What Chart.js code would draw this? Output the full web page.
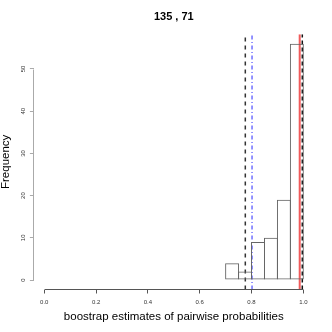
<!DOCTYPE html>
<html lang="en">
<head>
<meta charset="UTF-8">
<title>135 , 71</title>
<script src="https://cdn.jsdelivr.net/npm/chart.js@4.4.0/dist/chart.umd.min.js"></script>
<style>
    html, body { margin: 0; padding: 0; background: #fff; }
    #wrap { width: 332px; height: 332px; position: relative; }
</style>
</head>
<body>
<div id="wrap"><canvas id="hist"></canvas></div>
<script>
// histogram: bin centres and counts (bin width 0.05)
const binCenters = [0.725, 0.775, 0.825, 0.875, 0.925, 0.975];
const counts = [4, 2, 9, 10, 19, 56];
// vertical reference lines
const refValues = [0.776, 0.802, 0.986, 0.996];
const xTicks = [0, 0.2, 0.4, 0.6, 0.8, 1.0];
const yTicks = [0, 10, 20, 30, 40, 50];

// R-like 4% axis extension
const xMin = -0.04, xMax = 1.04;
const yMin = -56 * 0.04, yMax = 56 * 1.04;

const refStyle = [
    { color: '#333', width: 1.5, dash: [4, 4] },
    { color: '#6f6fff', width: 1.5, dash: [4, 2.5, 1, 2.5] },
    { color: '#f05a5a', width: 2, dash: [] },
    { color: '#111', width: 1.5, dash: [4, 3] }
];

const FONT = 'Liberation Sans, Arial, Helvetica, sans-serif';

const refSets = refValues.map((v, i) => ({
    type: 'line',
    data: [{ x: v, y: yMin }, { x: v, y: yMax }],
    borderColor: refStyle[i].color,
    borderWidth: refStyle[i].width,
    borderDash: refStyle[i].dash,
    pointRadius: 0,
    fill: false
}));

// plain axis lines spanning only the tick range, like base R
const rAxes = {
    id: 'rAxes',
    afterDraw(chart) {
        const { ctx, chartArea, scales: { x, y } } = chart;
        ctx.save();
        ctx.lineWidth = 1;
        ctx.strokeStyle = '#555';
        ctx.beginPath();
        ctx.moveTo(Math.round(x.getPixelForValue(xTicks[0])) + 0.5, Math.round(chartArea.bottom) - 0.5);
        ctx.lineTo(Math.round(x.getPixelForValue(xTicks[xTicks.length - 1])) + 0.5, Math.round(chartArea.bottom) - 0.5);
        ctx.stroke();
        ctx.strokeStyle = '#aaa';
        ctx.beginPath();
        ctx.moveTo(Math.round(chartArea.left) - 0.5, Math.round(y.getPixelForValue(yTicks[0])) + 0.5);
        ctx.lineTo(Math.round(chartArea.left) - 0.5, Math.round(y.getPixelForValue(yTicks[yTicks.length - 1])) + 0.5);
        ctx.stroke();
        ctx.restore();
    }
};

new Chart(document.getElementById('hist'), {
    type: 'bar',
    data: {
        datasets: [{
            data: binCenters.map((c, i) => ({ x: c, y: counts[i] })),
            backgroundColor: 'rgba(255,255,255,0)',
            borderColor: '#666',
            borderWidth: 1,
            borderSkipped: false,
            // widen by ~1px so neighbouring borders overlap into one line
            barPercentage: 1.077,
            categoryPercentage: 1
        }, ...refSets]
    },
    options: {
        responsive: true,
        maintainAspectRatio: false,
        animation: false,
        layout: { padding: { left: 0, right: 18.3, top: 0, bottom: 0 } },
        scales: {
            x: {
                type: 'linear',
                min: xMin,
                max: xMax,
                offset: false,
                afterBuildTicks: s => { s.ticks = xTicks.map(v => ({ value: v })); },
                afterFit: s => { s.height = 42.5; },
                grid: { offset: false, drawOnChartArea: false, tickLength: 4, color: '#555', tickColor: '#555' },
                border: { display: false },
                ticks: {
                    font: { family: FONT, size: 6 },
                    color: '#333',
                    padding: 5,
                    maxRotation: 0,
                    callback: v => v.toFixed(1)
                },
                title: {
                    display: true,
                    text: 'boostrap estimates of pairwise probabilities',
                    font: { family: FONT, size: 11.5 },
                    color: '#000',
                    padding: { top: 7.8, bottom: 7.8 }
                }
            },
            y: {
                type: 'linear',
                min: yMin,
                max: yMax,
                afterBuildTicks: s => { s.ticks = yTicks.map(v => ({ value: v })); },
                afterFit: s => { s.width = 33.9; },
                grid: { drawOnChartArea: false, tickLength: 4, color: '#aaa', tickColor: '#aaa' },
                border: { display: false },
                ticks: {
                    font: { family: FONT, size: 6 },
                    color: '#333',
                    padding: 3.5,
                    minRotation: 90,
                    maxRotation: 90,
                    crossAlign: 'center'
                },
                title: {
                    display: true,
                    text: 'Frequency',
                    font: { family: FONT, size: 11.5, lineHeight: 1 },
                    color: '#000',
                    padding: { top: 0, bottom: 0 }
                }
            }
        },
        plugins: {
            legend: { display: false },
            tooltip: { enabled: false },
            title: {
                display: true,
                text: '135 , 71',
                fullSize: false,
                font: { family: FONT, size: 11, weight: 'bold' },
                color: '#000',
                padding: { top: 10.7, bottom: 10.3 }
            }
        }
    },
    plugins: [rAxes]
});
</script>
</body>
</html>
